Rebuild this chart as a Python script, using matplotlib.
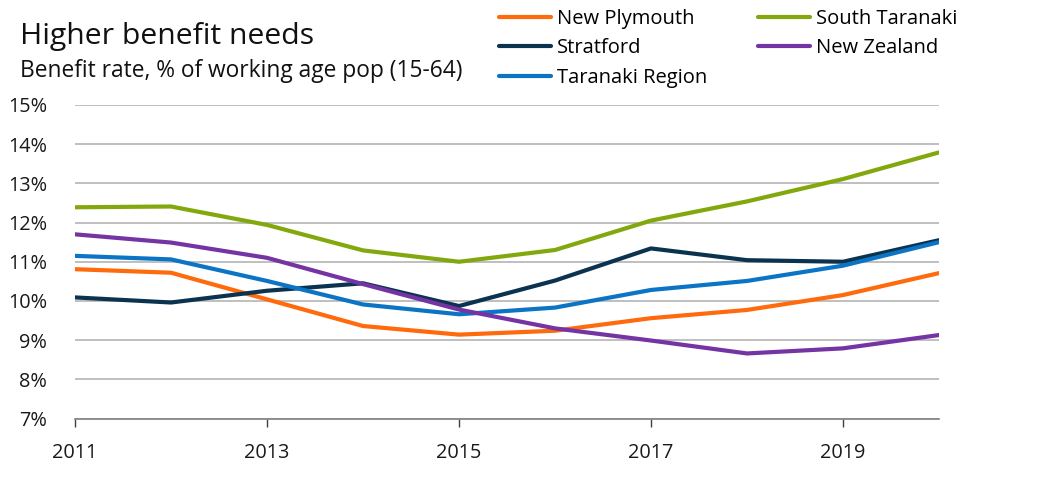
import matplotlib
matplotlib.use("Agg")
import matplotlib.pyplot as plt
from matplotlib.ticker import FuncFormatter, MultipleLocator

plt.rcParams['font.family'] = ['Open Sans', 'DejaVu Sans']

years = [2011, 2012, 2013, 2014, 2015, 2016, 2017, 2018, 2019, 2020]
new_plymouth = [10.81, 10.72, 10.04, 9.36, 9.14, 9.24, 9.56, 9.77, 10.15, 10.71]
south_taranaki = [12.39, 12.41, 11.94, 11.29, 11.00, 11.30, 12.05, 12.54, 13.11, 13.79]
stratford = [10.09, 9.96, 10.26, 10.45, 9.87, 10.52, 11.34, 11.04, 11.00, 11.55]
new_zealand = [11.70, 11.49, 11.10, 10.43, 9.78, 9.30, 8.99, 8.66, 8.79, 9.13]
taranaki_region = [11.15, 11.06, 10.51, 9.91, 9.66, 9.83, 10.28, 10.51, 10.90, 11.50]

series = [
    ("New Plymouth", new_plymouth, "#FF6A0D"),
    ("Stratford", stratford, "#0B3350"),
    ("Taranaki Region", taranaki_region, "#0B74C4"),
    ("South Taranaki", south_taranaki, "#82A80E"),
    ("New Zealand", new_zealand, "#7434A4"),
]

W, H = 1042, 482
fig = plt.figure(figsize=(W / 100, H / 100), dpi=100)
ax = fig.add_axes([75 / W, 1 - 418.5 / H, (939 - 75) / W, (418.5 - 105) / H])

handles = []
for name, vals, col in series:
    ln, = ax.plot(years, vals, color=col, lw=3, solid_capstyle='round', label=name, zorder=3)
    handles.append(ln)

ax.set_xlim(2011, 2020)
ax.set_ylim(7, 15)
ax.yaxis.set_major_locator(MultipleLocator(1))
ax.yaxis.set_major_formatter(FuncFormatter(lambda v, p: f"{v:.0f}%"))
ax.set_xticks([2011, 2013, 2015, 2017, 2019])
ax.grid(axis='y', color='#BFBFBF', lw=1.4)
ax.set_axisbelow(True)
for s in ['top', 'right', 'left']:
    ax.spines[s].set_visible(False)
ax.spines['bottom'].set_color('#808080')
ax.spines['bottom'].set_linewidth(1.2)
ax.tick_params(axis='y', length=0, pad=20, labelsize=14.3, labelcolor='#1a1a1a')
ax.tick_params(axis='x', length=6, width=1, color='#404040', pad=12, labelsize=14.3, labelcolor='#1a1a1a')

fig.text(20 / W, 1 - 44 / H, "Higher benefit needs", fontsize=21.7, color='#111111', va='baseline')
fig.text(20 / W, 1 - 77 / H, "Benefit rate, % of working age pop (15-64)", fontsize=16.4, color='#111111', va='baseline')

fig.legend(handles=handles, loc='upper left', bbox_to_anchor=(499 / W, 1 - 9 / H), ncol=2,
           frameon=False, fontsize=14.5, handlelength=2.6, handletextpad=0.3,
           labelspacing=0.47, columnspacing=2.5, borderpad=0, borderaxespad=0)

fig.savefig("out.png", dpi=100)
